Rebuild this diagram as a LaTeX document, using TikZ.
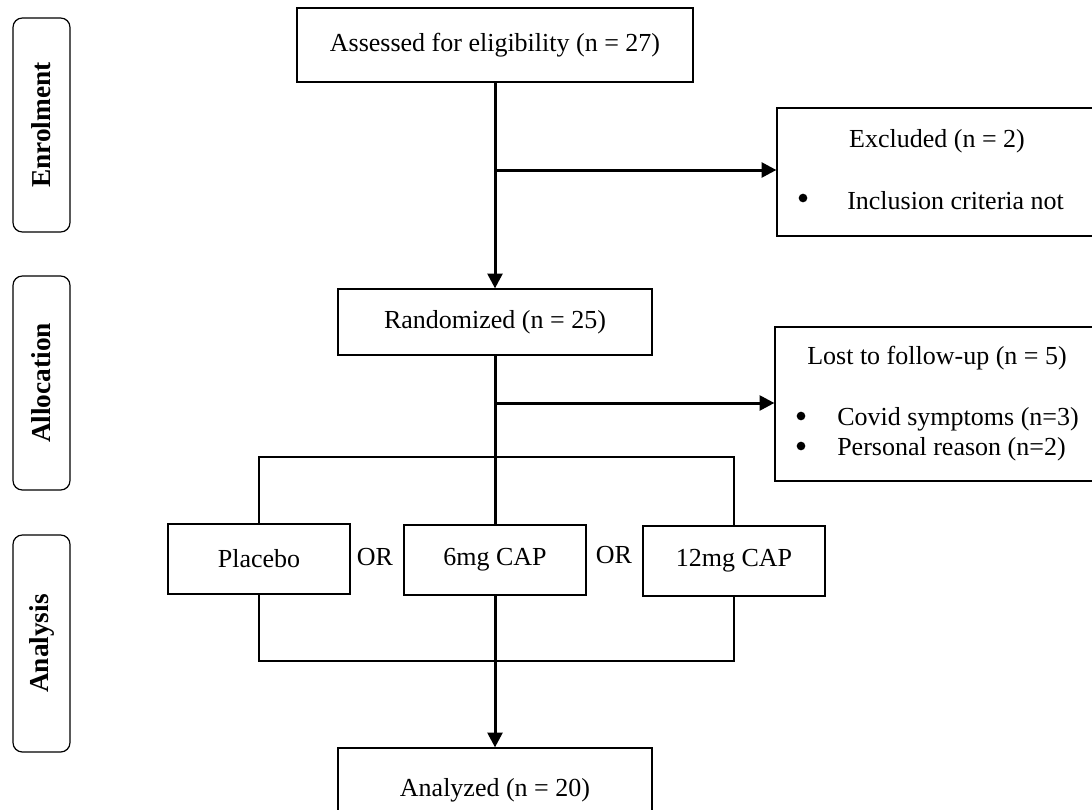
\documentclass[tikz,border=0pt]{standalone}
\usepackage{fontspec}
\setmainfont{Liberation Serif}
\usetikzlibrary{arrows.meta}

\newcommand{\flowfont}{\fontsize{19.5}{23}\selectfont}

\tikzset{
  box/.style={draw=black, line width=0.9pt, inner sep=0pt, align=center},
  stage/.style={draw=black, line width=0.9pt, rounded corners=7pt, rotate=90,
    inner sep=0pt, minimum height=42.75pt, font=\fontsize{20.5}{24}\selectfont\bfseries},
  arm/.style={box, minimum width=136.5pt, minimum height=52.5pt},
  dot/.style={circle, fill=black, inner sep=0pt, minimum size=6.5pt},
  flow/.style={line width=2.25pt},
  flowarr/.style={flow, -{Triangle[length=11pt,width=11pt]}},
  split/.style={line width=1.1pt}
}

\begin{document}
\begin{tikzpicture}[x=0.75pt, y=-0.75pt, font=\flowfont]

\clip (0,0) rectangle (1092,810);

% Stage labels on the left
\node[stage, minimum width=160.5pt] (enrol) at (41.5,125) {Enrolment};
\node[stage, minimum width=160.5pt] (alloc) at (41.5,383) {Allocation};
\node[stage, minimum width=162.75pt] (anal) at (41.5,643.5) {Analysis};

% Main boxes
\node[box, minimum width=297pt, minimum height=55.5pt] (assess) at (495,45) {Assessed for eligibility (n = 27)};
\node[box, minimum width=235.5pt, minimum height=49.5pt] (rand) at (495,322) {Randomized (n = 25)};
\node[box, minimum width=235.5pt, minimum height=61.5pt] (analyzed) at (495,789) {};
\node (analyzedtxt) at (495,790) {Analyzed (n = 20)};

% Excluded box
\node[box, minimum width=249.75pt, minimum height=96pt] (excl) at (943.5,172) {};
\node (excltitle) at (937,141) {Excluded (n = 2)};
\node[dot] (exclbul) at (803,198) {};
\node[anchor=west, inner sep=0pt] (exclitem) at (847,201) {Inclusion criteria not};

% Lost to follow-up box
\node[box, minimum width=251.25pt, minimum height=115.5pt] (lost) at (942.5,404) {};
\node (losttitle) at (937,358) {Lost to follow-up (n = 5)};
\node[dot] (lostbula) at (801,416) {};
\node[anchor=west, inner sep=0pt] (lostitema) at (837,419) {Covid symptoms (n=3)};
\node[dot] (lostbulb) at (801,446) {};
\node[anchor=west, inner sep=0pt] (lostitemb) at (837,449) {Personal reason (n=2)};

% Arms
\node[arm] (placebo) at (259,559) {Placebo};
\node[arm] (cap6) at (495,560) {6mg CAP};
\node[arm] (cap12) at (734,561) {12mg CAP};
\node (ora) at (375,557) {OR};
\node (orb) at (614,555) {OR};

% Flow lines
\coordinate (exclsplit) at (495,170);
\coordinate (lostsplit) at (495,403);
\draw[flowarr] (assess.south) -- (rand.north);
\draw[flowarr] (exclsplit) -- (exclsplit -| excl.west);
\draw[flow] (rand.south) -- (cap6.north);
\draw[flowarr] (lostsplit) -- (lostsplit -| lost.west);
\draw[flowarr] (cap6.south) -- (analyzed.north);

% Bracket round the arms
\draw[split] (placebo.north) |- (495,457) -| (cap12.north);
\draw[split] (placebo.south) |- (495,661) -| (cap12.south);

\end{tikzpicture}
\end{document}
